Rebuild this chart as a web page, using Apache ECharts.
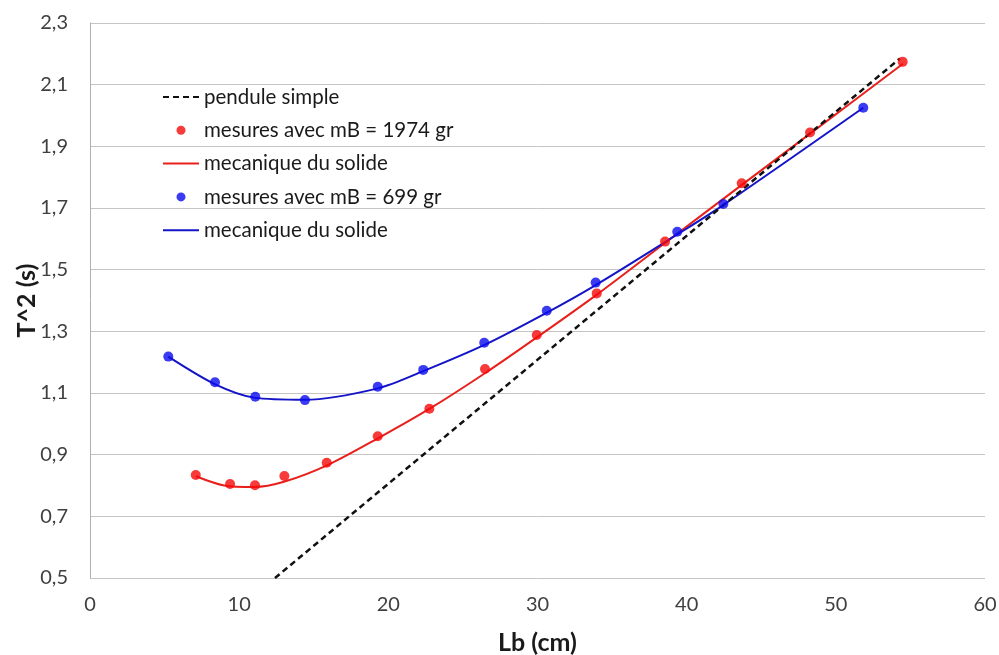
<!DOCTYPE html>
<html><head><meta charset="utf-8">
<script src="https://cdn.jsdelivr.net/npm/echarts@6/dist/echarts.min.js"></script>
<style>html,body{margin:0;padding:0;background:#fff}#c{width:999px;height:655px}</style>
</head><body><div id="c"></div>
<script>
// Pendule simple (theoretical line, two end points)
const penduleL  = [12.4, 54.3];
const penduleT2 = [0.5, 2.185];

// Measurements, mB = 1974 gr
const redMeasL  = [7.09, 9.39, 11.06, 13.03, 15.87, 19.29, 22.75, 26.48, 29.95, 33.97, 38.55, 43.69, 48.27, 54.48];
const redMeasT2 = [0.834, 0.805, 0.801, 0.831, 0.874, 0.960, 1.049, 1.178, 1.288, 1.423, 1.591, 1.780, 1.945, 2.174];

// Model curve (mecanique du solide), red
const redModelL  = [7.1, 9.0, 11.0, 13.0, 16.0, 19.3, 22.8, 26.5, 30.0, 34.0, 38.5, 43.7, 48.3, 54.5];
const redModelT2 = [0.83, 0.800, 0.795, 0.812, 0.868, 0.953, 1.050, 1.165, 1.282, 1.420, 1.585, 1.775, 1.942, 2.168];

// Measurements, mB = 699 gr
const blueMeasL  = [5.25, 8.38, 11.08, 14.41, 19.29, 22.34, 26.43, 30.62, 33.90, 39.37, 42.46, 51.84];
const blueMeasT2 = [1.218, 1.135, 1.088, 1.077, 1.120, 1.175, 1.263, 1.367, 1.458, 1.623, 1.713, 2.025];

// Model curve (mecanique du solide), blue
const blueModelL  = [5.25, 8.4, 11.0, 14.4, 19.3, 22.3, 26.4, 30.6, 33.9, 39.4, 42.5, 51.84];
const blueModelT2 = [1.218, 1.128, 1.085, 1.078, 1.115, 1.170, 1.255, 1.360, 1.450, 1.615, 1.711, 2.025];

const legendNames = ['pendule simple', 'mesures avec mB = 1974 gr', 'mecanique du solide', 'mesures avec mB = 699 gr', 'mecanique du solide '];
const legendIsLine = [true, false, true, false, true];

const zip = (a, b) => a.map((v, i) => [v, b[i]]);
const fmt = v => v.toFixed(1).replace('.', ',');
const FONT = 'Lato';

const chart = echarts.init(document.getElementById('c'), null, {renderer: 'canvas'});
chart.setOption({
  animation: false,
  backgroundColor: '#fff',
  textStyle: {fontFamily: FONT},
  grid: {left: 90, right: 14, top: 23, bottom: 77, containLabel: false, outerBoundsMode: 'none'},
  legend: {
    orient: 'vertical', left: 162, top: 85, padding: 0,
    itemWidth: 36, itemHeight: 9, itemGap: 9.3,
    data: legendNames.map((n, i) => legendIsLine[i] ? {name: n, itemStyle: {opacity: 0}} : {name: n}),
    textStyle: {fontFamily: FONT, fontSize: 20.5, color: '#1a1a1a', lineHeight: 24}
  },
  xAxis: {
    type: 'value', min: 0, max: 60, interval: 10,
    name: 'Lb (cm)', nameLocation: 'middle', nameGap: 52,
    nameTextStyle: {fontFamily: FONT, fontSize: 25, fontWeight: 'bold', color: '#1a1a1a'},
    axisLine: {show: false},
    axisTick: {show: false},
    splitLine: {show: false},
    axisLabel: {fontFamily: FONT, fontSize: 20, color: '#404040', margin: 17, formatter: v => String(v)}
  },
  yAxis: {
    type: 'value', min: 0.5, max: 2.3, interval: 0.2,
    name: 'T^2 (s)', nameLocation: 'middle', nameGap: 51, nameMoveOverlap: false,
    nameTextStyle: {fontFamily: FONT, fontSize: 25, fontWeight: 'bold', color: '#1a1a1a'},
    axisLine: {show: true, lineStyle: {color: '#b0b0b0', width: 1}},
    axisTick: {show: false},
    splitLine: {show: true, lineStyle: {color: '#c4c4c4', width: 1}},
    axisLabel: {fontFamily: FONT, fontSize: 20, color: '#404040', margin: 22, formatter: fmt}
  },
  series: [
    {
      name: legendNames[0], type: 'line', data: zip(penduleL, penduleT2),
      symbol: 'none', z: 4,
      lineStyle: {color: '#111', width: 2.5, type: [6, 4]},
      itemStyle: {color: '#111'}
    },
    {
      name: legendNames[1], type: 'scatter', data: zip(redMeasL, redMeasT2),
      symbol: 'circle', symbolSize: 10, z: 6,
      itemStyle: {color: '#f50a0a'}
    },
    {
      name: legendNames[2], type: 'line', data: zip(redModelL, redModelT2),
      symbol: 'none', smooth: 0.3, z: 3,
      lineStyle: {color: '#e8201c', width: 2},
      itemStyle: {color: '#e8201c'}
    },
    {
      name: legendNames[3], type: 'scatter', data: zip(blueMeasL, blueMeasT2),
      symbol: 'circle', symbolSize: 10, z: 6,
      itemStyle: {color: '#0a0aee'}
    },
    {
      name: legendNames[4], type: 'line', data: zip(blueModelL, blueModelT2),
      symbol: 'none', smooth: 0.3, z: 3,
      lineStyle: {color: '#1414c8', width: 2},
      itemStyle: {color: '#1414c8'}
    }
  ]
});
</script>
</body></html>
